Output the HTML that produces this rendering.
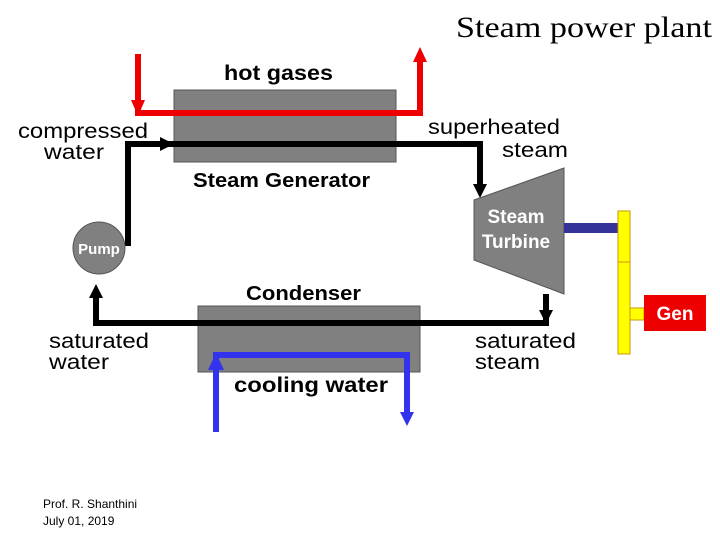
<!DOCTYPE html>
<html><head><style>
body{margin:0;background:#fff;}
svg text{font-family:"Liberation Sans",sans-serif;}
</style></head><body>
<svg width="720" height="540" viewBox="0 0 720 540" xmlns="http://www.w3.org/2000/svg">
<text x="456" y="37" textLength="256" lengthAdjust="spacingAndGlyphs" style="font-family:'Liberation Serif',serif" font-size="30">Steam power plant</text>
<!-- steam generator -->
<rect x="174" y="90" width="222" height="72" fill="#808080" stroke="#555" stroke-width="1"/>
<text x="224" y="80" textLength="109" lengthAdjust="spacingAndGlyphs" font-size="21" font-weight="bold">hot gases</text>
<text x="193" y="187" textLength="177" lengthAdjust="spacingAndGlyphs" font-size="20" font-weight="bold">Steam Generator</text>
<!-- red -->
<polyline points="138,54 138,113 420,113 420,60" fill="none" stroke="#ee0000" stroke-width="6"/>
<polygon points="131,100 145,100 138,116" fill="#ee0000"/>
<polygon points="413,62 427,62 420,47" fill="#ee0000"/>
<!-- black loop -->
<polyline points="128,246 128,144 480,144 480,186" fill="none" stroke="#000" stroke-width="6"/>
<polygon points="160,137 160,151 174,144" fill="#000"/>
<polygon points="473,184 487,184 480,198" fill="#000"/>
<polyline points="546,294 546,323 96,323 96,296" fill="none" stroke="#000" stroke-width="6"/>
<polygon points="539,310 553,310 546,324" fill="#000"/>
<polygon points="89,298 103,298 96,284" fill="#000"/>
<!-- condenser -->
<rect x="198" y="306" width="222" height="66" fill="#808080" stroke="#555" stroke-width="1"/>
<line x1="96" y1="323" x2="440" y2="323" stroke="#000" stroke-width="6"/>
<text x="246" y="300" textLength="115" lengthAdjust="spacingAndGlyphs" font-size="20" font-weight="bold">Condenser</text>
<polyline points="216,432 216,355 407,355 407,415" fill="none" stroke="#3333ee" stroke-width="6"/>
<polygon points="208,370 224,370 216,353" fill="#3333ee"/>
<polygon points="400,412 414,412 407,426" fill="#3333ee"/>
<text x="234" y="392" textLength="154" lengthAdjust="spacingAndGlyphs" font-size="21" font-weight="bold">cooling water</text>
<!-- pump -->
<circle cx="99" cy="248" r="26" fill="#808080" stroke="#555"/>
<text x="99" y="254" text-anchor="middle" font-size="15" font-weight="bold" fill="#fff">Pump</text>
<!-- turbine -->
<polygon points="474,200 564,168 564,294 474,260" fill="#808080" stroke="#555"/>
<text x="516" y="223" text-anchor="middle" font-size="19" font-weight="bold" fill="#fff">Steam</text>
<text x="516" y="248" text-anchor="middle" font-size="19" font-weight="bold" fill="#fff">Turbine</text>
<rect x="564" y="223" width="54" height="10" fill="#333399"/>
<rect x="618" y="211" width="12" height="143" fill="#ffff00" stroke="#cc9900" stroke-width="1"/>
<line x1="618" y1="262" x2="630" y2="262" stroke="#cc9900"/>
<rect x="630" y="308" width="14" height="12" fill="#ffff00" stroke="#cc9900" stroke-width="1"/>
<rect x="644" y="295" width="62" height="36" fill="#ee0000"/>
<text x="675" y="320" text-anchor="middle" font-size="19" font-weight="bold" fill="#fff">Gen</text>
<!-- labels -->
<text x="18" y="138" textLength="130" lengthAdjust="spacingAndGlyphs" font-size="21">compressed</text>
<text x="44" y="159" textLength="60" lengthAdjust="spacingAndGlyphs" font-size="21">water</text>
<text x="428" y="134" textLength="132" lengthAdjust="spacingAndGlyphs" font-size="21">superheated</text>
<text x="502" y="157" textLength="66" lengthAdjust="spacingAndGlyphs" font-size="21">steam</text>
<text x="49" y="348" textLength="100" lengthAdjust="spacingAndGlyphs" font-size="21">saturated</text>
<text x="49" y="369" textLength="60" lengthAdjust="spacingAndGlyphs" font-size="21">water</text>
<text x="475" y="348" textLength="101" lengthAdjust="spacingAndGlyphs" font-size="21">saturated</text>
<text x="475" y="369" textLength="65" lengthAdjust="spacingAndGlyphs" font-size="21">steam</text>
<text x="43" y="508" font-size="12">Prof. R. Shanthini</text>
<text x="43" y="525" font-size="12">July 01, 2019</text>
</svg>
</body></html>
